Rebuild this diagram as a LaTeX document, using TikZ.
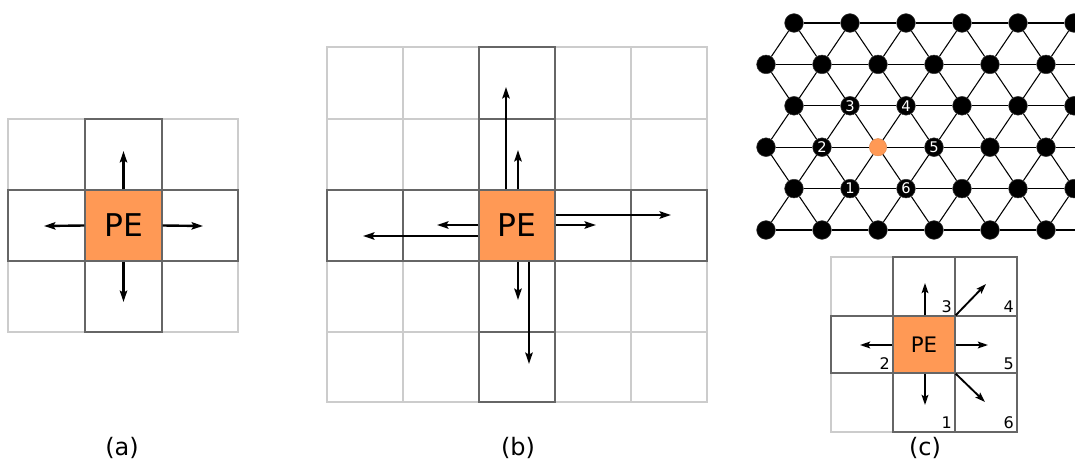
\documentclass[tikz,border=0pt]{standalone}
\usepackage{fontspec}
\setmainfont{DejaVu Sans}
\usetikzlibrary{arrows.meta}
\definecolor{peorange}{HTML}{FF9955}
\definecolor{darkgrid}{HTML}{666666}
\definecolor{lightgrid}{HTML}{CCCCCC}
\begin{document}
\begin{tikzpicture}[x=0.75pt,y=-0.75pt,
  lightcell/.style={draw=lightgrid, line width=1.1pt},
  darkcell/.style={draw=darkgrid, line width=1.1pt},
  pebox/.style={draw=darkgrid, line width=1.1pt, fill=peorange, inner sep=0pt},
  arr/.style={-{Stealth[length=8.5pt,width=5.5pt,inset=1.5pt]}, line width=1.8pt},
  arrc/.style={-{Stealth[length=7.5pt,width=5pt,inset=1.3pt]}, line width=1.4pt},
  latnode/.style={circle, fill=black, draw=black!80, line width=0.4pt, minimum size=14pt, inner sep=0pt},
  orangenode/.style={circle, fill=peorange, draw=peorange!85!black, line width=0.3pt, minimum size=13pt, inner sep=0pt},
  latedge/.style={draw=black, line width=0.8pt},
  lattxt/.style={text=white, font=\fontsize{11}{11}\selectfont, inner sep=0pt},
  numtxt/.style={anchor=south east, inner sep=0pt, font=\fontsize{12}{12}\selectfont},
  captxt/.style={font=\fontsize{18}{18}\selectfont, inner sep=0pt}
]
\useasboundingbox (0,0) rectangle (1075,460);

% ---------------- (a) ----------------
\foreach \xa/\xb in {8/85,85/162,162/238}
  \foreach \ya/\yb in {119/190,190/261,261/332}
    \draw[lightcell] (\xa,\ya) rectangle (\xb,\yb);
\draw[darkcell] (85,119) rectangle (162,190);
\draw[darkcell] (8,190) rectangle (85,261);
\draw[darkcell] (162,190) rectangle (238,261);
\draw[darkcell] (85,261) rectangle (162,332);
\node[pebox, minimum width=57.75pt, minimum height=53.25pt,
      font=\fontsize{23.5}{23.5}\selectfont] (pa) at (123.5,225.5) {PE};
\coordinate (au) at (123.5,151);
\coordinate (ad) at (123.5,302);
\coordinate (al) at (44,226);
\coordinate (ar) at (203,226);
\draw[arr] (pa.north) -- (au);
\draw[arr] (pa.south) -- (ad);
\draw[arr] (pa.west) -- (al);
\draw[arr] (pa.east) -- (ar);
\node[captxt] (capa) at (122,448) {(a)};

% ---------------- (b) ----------------
\foreach \xa/\xb in {327/403,403/479,479/555,555/631,631/707}
  \foreach \ya/\yb in {47/119,119/190,190/261,261/332,332/402}
    \draw[lightcell] (\xa,\ya) rectangle (\xb,\yb);
\foreach \ya/\yb in {47/119,119/190,261/332,332/402}
  \draw[darkcell] (479,\ya) rectangle (555,\yb);
\foreach \xa/\xb in {327/403,403/479,555/631,631/707}
  \draw[darkcell] (\xa,190) rectangle (\xb,261);
\node[pebox, minimum width=57pt, minimum height=53.25pt,
      font=\fontsize{23.5}{23.5}\selectfont] (pb) at (517,225.5) {PE};
\coordinate (bu1) at (506,87);
\coordinate (bu2) at (518,150);
\coordinate (br1) at (671,215);
\coordinate (br2) at (596,225);
\coordinate (bl2) at (437,225);
\coordinate (bl1) at (363,236);
\coordinate (bd2) at (518,300);
\coordinate (bd1) at (529,364);
\draw[arr] (pb.north -| bu1) -- (bu1);
\draw[arr] (pb.north -| bu2) -- (bu2);
\draw[arr] (pb.east |- br1) -- (br1);
\draw[arr] (pb.east |- br2) -- (br2);
\draw[arr] (pb.west |- bl2) -- (bl2);
\draw[arr] (pb.west |- bl1) -- (bl1);
\draw[arr] (pb.south -| bd2) -- (bd2);
\draw[arr] (pb.south -| bd1) -- (bd1);
\node[captxt] (capb) at (518,448) {(b)};

% ---------------- (c) lattice ----------------
\begin{scope}
\clip (740,0) rectangle (1075,250);
\foreach \r in {0,...,5} {
  \pgfmathsetmacro\yy{23+41.4*\r}
  \pgfmathsetmacro\off{mod(\r,2)==0 ? 794 : 766}
  \foreach \k in {0,...,6} {
    \ifnum\r\k=32
      \node[orangenode] (n-\r-\k) at ({\off+56*\k},\yy) {};
    \else
      \node[latnode] (n-\r-\k) at ({\off+56*\k},\yy) {};
    \fi
  }
}
% horizontal edges
\foreach \r in {0,...,5}
  \foreach \k in {0,...,5} {
    \pgfmathtruncatemacro\knext{\k+1}
    \draw[latedge] (n-\r-\k) -- (n-\r-\knext);
  }
% diagonal edges, even row above odd row
\foreach \r in {0,2,4}
  \foreach \k in {0,...,5} {
    \pgfmathtruncatemacro\rnext{\r+1}
    \pgfmathtruncatemacro\knext{\k+1}
    \draw[latedge] (n-\r-\k) -- (n-\rnext-\k);
    \draw[latedge] (n-\r-\k) -- (n-\rnext-\knext);
  }
% diagonal edges, odd row above even row
\foreach \r in {1,3}
  \foreach \k in {0,...,6} {
    \pgfmathtruncatemacro\rnext{\r+1}
    \pgfmathtruncatemacro\kprev{\k-1}
    \ifnum\k>0
      \draw[latedge] (n-\r-\k) -- (n-\rnext-\kprev);
    \fi
    \draw[latedge] (n-\r-\k) -- (n-\rnext-\k);
  }
\end{scope}
\node[lattxt] at (n-2-1) {3};
\node[lattxt] at (n-2-2) {4};
\node[lattxt] at (n-3-1) {2};
\node[lattxt] at (n-3-3) {5};
\node[lattxt] at (n-4-1) {1};
\node[lattxt] at (n-4-2) {6};

% ---------------- (c) grid ----------------
\draw[lightcell] (831,257) rectangle (893,316);
\draw[lightcell] (831,373) rectangle (893,432);
\foreach \xa/\xb/\ya/\yb in {893/955/257/316, 955/1017/257/316,
    831/893/316/373, 955/1017/316/373,
    893/955/373/432, 955/1017/373/432}
  \draw[darkcell] (\xa,\ya) rectangle (\xb,\yb);
\node[pebox, minimum width=46.5pt, minimum height=42.75pt,
      font=\fontsize{16}{16}\selectfont] (pc) at (924,344.5) {PE};
\coordinate (cu) at (925,283);
\coordinate (cd) at (925,405);
\coordinate (cl) at (860,345);
\coordinate (cr) at (988,345);
\coordinate (cur) at (986,284);
\coordinate (cdr) at (985,402);
\draw[arrc] (pc.north -| cu) -- (cu);
\draw[arrc] (pc.south -| cd) -- (cd);
\draw[arrc] (pc.west |- cl) -- (cl);
\draw[arrc] (pc.east |- cr) -- (cr);
\draw[arrc] (pc.north east) -- (cur);
\draw[arrc] (pc.south east) -- (cdr);
\node[numtxt] (c3) at (952,313) {3};
\node[numtxt] (c4) at (1014,313) {4};
\node[numtxt] (c2) at (890,370) {2};
\node[numtxt] (c5) at (1014,370) {5};
\node[numtxt] (c1) at (952,429) {1};
\node[numtxt] (c6) at (1014,429) {6};
\node[captxt] (capc) at (925,448) {(c)};
\end{tikzpicture}
\end{document}
